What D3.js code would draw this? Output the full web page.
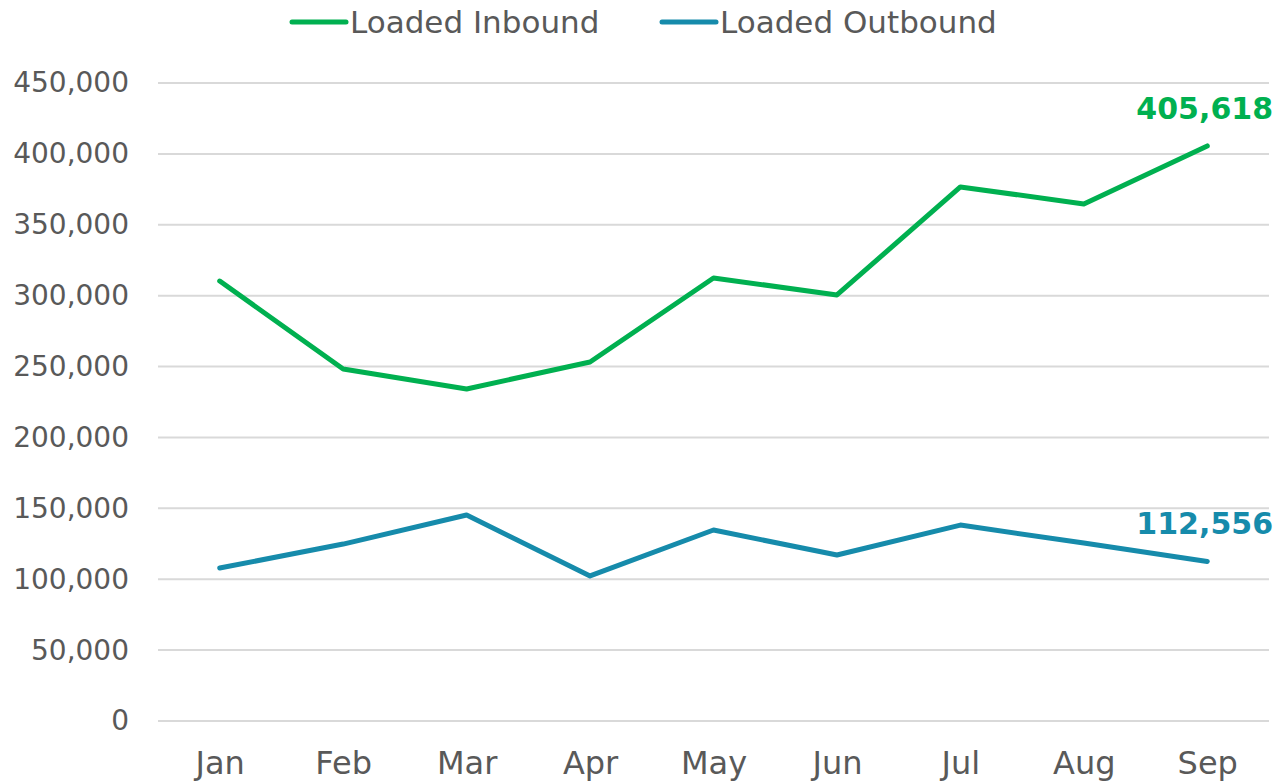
<!DOCTYPE html>
<html>
<head>
<meta charset="utf-8">
<script src="https://cdn.jsdelivr.net/npm/d3@7"></script>
<style>
  body { margin: 0; background: #fff; }
  text { font-family: "Century Gothic", "DejaVu Sans", sans-serif; fill: #595959; }
</style>
</head>
<body>
<div id="chart"></div>
<script>
// data
var months = ['Jan', 'Feb', 'Mar', 'Apr', 'May', 'Jun', 'Jul', 'Aug', 'Sep'];
var inbound = [310300, 248300, 234200, 253200, 312500, 300500, 376700, 364700, 405618];
var outbound = [107900, 124800, 145300, 102300, 134700, 117100, 138200, 125500, 112556];
var yTicks = [0, 50000, 100000, 150000, 200000, 250000, 300000, 350000, 400000, 450000];

var series = [
  { name: 'Loaded Inbound', values: inbound, color: '#00B050' },
  { name: 'Loaded Outbound', values: outbound, color: '#168BAB' }
];

// define svg area
var svgWidth = 1279;
var svgHeight = 781;

var margin = { top: 83, right: 10, bottom: 60, left: 158 };
var chartWidth = svgWidth - margin.left - margin.right;
var chartHeight = 721 - margin.top;

var svg = d3.select('#chart')
  .append('svg')
  .attr('width', svgWidth)
  .attr('height', svgHeight);

var chartGroup = svg.append('g')
  .attr('transform', `translate(${margin.left}, ${margin.top})`);

// scales
var xScale = d3.scalePoint()
  .domain(months)
  .range([0, chartWidth])
  .padding(0.5);

var yScale = d3.scaleLinear()
  .domain([0, 450000])
  .range([chartHeight, 0]);

// gridlines
chartGroup.append('g')
  .selectAll('line')
  .data(yTicks)
  .enter()
  .append('line')
  .attr('x1', 0)
  .attr('x2', chartWidth)
  .attr('y1', d => yScale(d))
  .attr('y2', d => yScale(d))
  .attr('stroke', '#d9d9d9')
  .attr('stroke-width', 2);

// y axis labels
var leftAxis = d3.axisLeft(yScale)
  .tickValues(yTicks)
  .tickFormat(d3.format(','))
  .tickSize(0)
  .tickPadding(29);

var yAxis = chartGroup.append('g').call(leftAxis);
yAxis.select('.domain').remove();
yAxis.selectAll('text')
  .style('font-size', '28px')
  .attr('fill', '#595959');

// x axis labels
var bottomAxis = d3.axisBottom(xScale)
  .tickSize(0)
  .tickPadding(30);

var xAxis = chartGroup.append('g')
  .attr('transform', `translate(0, ${chartHeight})`)
  .call(bottomAxis);
xAxis.select('.domain').remove();
xAxis.selectAll('text')
  .style('font-size', '32px')
  .attr('fill', '#595959');

// lines
var line = d3.line()
  .x((d, i) => xScale(months[i]))
  .y(d => yScale(d));

chartGroup.selectAll('.series')
  .data(series)
  .enter()
  .append('path')
  .attr('d', d => line(d.values))
  .attr('fill', 'none')
  .attr('stroke', d => d.color)
  .attr('stroke-width', 5)
  .attr('stroke-linecap', 'round')
  .attr('stroke-linejoin', 'round');

// end value labels
chartGroup.selectAll('.endLabel')
  .data(series)
  .enter()
  .append('text')
  .attr('x', chartWidth + 4)
  .attr('y', d => yScale(d.values[d.values.length - 1]) - 27)
  .attr('text-anchor', 'end')
  .style('font-size', '30px')
  .style('font-weight', 'bold')
  .style('fill', d => d.color)
  .text(d => d3.format(',')(d.values[d.values.length - 1]));

// legend
var legendX = [292, 662];
var legend = svg.selectAll('.legend')
  .data(series)
  .enter()
  .append('g')
  .attr('transform', (d, i) => `translate(${legendX[i]}, 22)`);

legend.append('line')
  .attr('x1', 0)
  .attr('x2', 54)
  .attr('stroke', d => d.color)
  .attr('stroke-width', 5)
  .attr('stroke-linecap', 'round');

legend.append('text')
  .attr('x', 58)
  .attr('dy', '0.36em')
  .style('font-size', '31px')
  .text(d => d.name);
</script>
</body>
</html>
